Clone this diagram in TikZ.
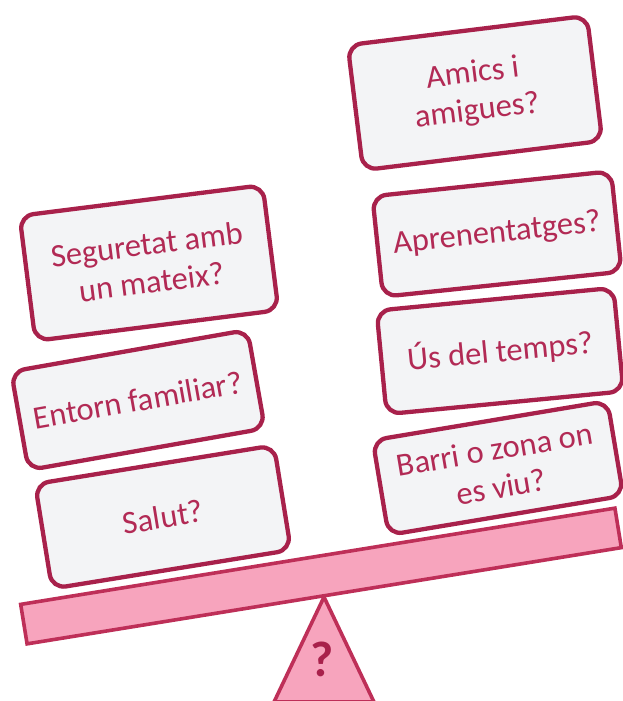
\documentclass[tikz,border=0pt]{standalone}
\usepackage{fontspec}
\setmainfont{Carlito}

\definecolor{cardline}{HTML}{A8214B}
\definecolor{cardfill}{HTML}{F3F4F6}
\definecolor{cardtext}{HTML}{B22A55}
\definecolor{beamline}{HTML}{BE2F58}
\definecolor{beamfill}{HTML}{F7A4BD}

\begin{document}
\begin{tikzpicture}[x=1pt,y=-1pt,
    card/.style={draw=cardline,line width=4.3pt,fill=cardfill,rounded corners=14pt,
      text=cardtext,align=center,inner sep=0pt,font=\fontsize{32.5}{38}\selectfont},
    plank/.style={draw=beamline,line width=3.6pt,fill=beamfill}]
            \useasboundingbox (0,0) rectangle (622,701);
            % fulcrum and beam
            \draw [plank] (324,597) -- (374,702) -- (274,702) -- cycle;
            \node [plank,minimum width=602pt,minimum height=40pt,rotate=9.2] (beam) at (321,576) {};
            \node [text=cardline,font=\fontsize{50}{54}\selectfont\bfseries] (what) at (322,659) {?};
            % left pile
            \node [card,minimum width=242pt,minimum height=106pt,rotate=9.2] (salut) at (163,517) {Salut?};
            \node [card,minimum width=240pt,minimum height=100pt,rotate=10] (entorn) at (138,400) {Entorn familiar?};
            \node [card,minimum width=245pt,minimum height=126pt,rotate=7.2] (seguretat) at (149,263) {Seguretat amb\\un mateix?};
            % right pile
            \node [card,minimum width=238pt,minimum height=96pt,rotate=9.5] (barri) at (498,468) {Barri o zona on\\es viu?};
            \node [card,minimum width=238pt,minimum height=104pt,rotate=5.5] (temps) at (500,351) {Ús del temps?};
            \node [card,minimum width=240pt,minimum height=101pt,rotate=6] (apren) at (497,234) {Aprenentatges?};
            \node [card,minimum width=241pt,minimum height=126pt,rotate=7] (amics) at (475,93) {Amics i\\amigues?};
        \end{tikzpicture}
\end{document}
